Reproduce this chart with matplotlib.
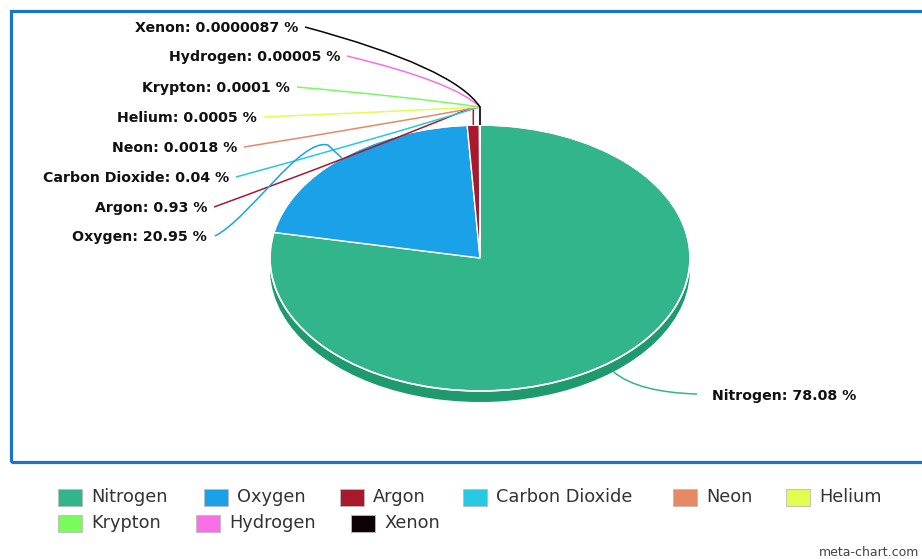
import matplotlib
matplotlib.use("Agg")
import matplotlib.pyplot as plt
import numpy as np
from matplotlib.patches import Wedge, Rectangle, Ellipse, PathPatch
from matplotlib.path import Path
from matplotlib.transforms import Affine2D

# Composition of dry air (% by volume)
gases = ["Nitrogen", "Oxygen", "Argon", "Carbon Dioxide", "Neon",
         "Helium", "Krypton", "Hydrogen", "Xenon"]
shares = [78.08, 20.95, 0.93, 0.04, 0.0018, 0.0005, 0.0001, 0.00005, 0.0000087]
share_labels = ["78.08", "20.95", "0.93", "0.04", "0.0018",
                "0.0005", "0.0001", "0.00005", "0.0000087"]
colors = ["#33b58c", "#1ba1e8", "#a8192e", "#26c9e3", "#e68a65",
          "#e2fc4f", "#79fb5c", "#f86fe8", "#0d0206"]
side_colors = ["#1f9a6e", "#1585c4", "#8a1226", "#1fa8bd", "#c27252",
               "#bcd340", "#62d24a", "#d05bc3", "#050002"]

W, H = 922, 559
fig = plt.figure(figsize=(W / 100, H / 100), dpi=100)
ax = fig.add_axes([0, 0, 1, 1])
ax.set_xlim(0, W)
ax.set_ylim(0, H)
ax.axis("off")


def Y(y):
    """Convert a top-down pixel row into the y-up axes coordinate."""
    return H - y


# frame around the plot area
ax.add_patch(Rectangle((10.5, Y(461.5)), W + 20, 451, fill=False,
                       edgecolor="#1a75c8", linewidth=2.3, zorder=1))

# pie geometry (elliptical, tilted)
cx, cy = 480, Y(258)
rx, ry = 210, 133
depth = 11

vals = np.array(shares, dtype=float)
frac = vals / vals.sum()
ends = 90 - 360 * np.cumsum(frac)
starts = np.concatenate([[90], ends[:-1]])

face_tf = Affine2D().scale(rx, ry).translate(cx, cy) + ax.transData
side_tf = Affine2D().scale(rx, ry).translate(cx, cy - depth) + ax.transData

# side of the pie: lower ellipse plus the band between the two ellipses
for s, e, sc in zip(starts, ends, side_colors):
    ax.add_patch(Wedge((0, 0), 1, e, s, facecolor=sc, edgecolor="none",
                       transform=side_tf, zorder=2))
ax.add_patch(Rectangle((cx - rx, cy - depth), 2 * rx, depth,
                       facecolor=side_colors[0], edgecolor="none", zorder=2))

# top face
for s, e, c in zip(starts, ends, colors):
    ax.add_patch(Wedge((0, 0), 1, e, s, facecolor=c, edgecolor="white",
                       linewidth=1.0, transform=face_tf, zorder=3))
ax.add_patch(Ellipse((cx, cy), 2 * rx, 2 * ry, fill=False, edgecolor="white",
                     linewidth=1.2, zorder=4))


def arc_point(angle_deg, drop=0.0):
    a = np.deg2rad(angle_deg)
    return cx + rx * np.cos(a), cy + ry * np.sin(a) - drop


mids = (starts + ends) / 2

label_font = dict(family="DejaVu Sans", fontweight="bold", fontsize=10.2,
                  color="#111111")

# small slices: labels stacked on the left, leaders fanning from the top
# (row, horizontal share of the bend used for the leader curve)
label_rows = {"Xenon": (298, 28, 0.15), "Hydrogen": (340, 57, 0.2),
              "Krypton": (290, 88, 0.38), "Helium": (257, 118, 0.45),
              "Neon": (237, 148, 0.47), "Carbon Dioxide": (229, 178, 0.47),
              "Argon": (207, 208, 0.47)}
for i, g in enumerate(gases):
    if g not in label_rows:
        continue
    tx, ty, bend = label_rows[g]
    ax.text(tx, Y(ty), f"{g}: {share_labels[i]} %", ha="right", va="center",
            **label_font, zorder=6)
    p0 = arc_point(mids[i])
    p1 = (p0[0], Y(107))
    p2 = (tx + 7, Y(ty - 1))
    ctrl = (p1[0] - bend * (p1[0] - p2[0]), p1[1] + 0.5 * (p2[1] - p1[1]))
    path = Path([p0, p1, ctrl, p2],
                [Path.MOVETO, Path.LINETO, Path.CURVE3, Path.CURVE3])
    ax.add_patch(PathPatch(path, fill=False, edgecolor=colors[i],
                           linewidth=1.1, zorder=5))

# Oxygen label and its S-shaped leader
i = gases.index("Oxygen")
ax.text(207, Y(237), f"Oxygen: {share_labels[i]} %", ha="right", va="center",
        **label_font, zorder=6)
p0 = arc_point(mids[i])
path = Path([p0, (328, Y(145)), (300, Y(138)), (250, Y(218)), (215, Y(236))],
            [Path.MOVETO, Path.LINETO, Path.CURVE4, Path.CURVE4, Path.CURVE4])
ax.add_patch(PathPatch(path, fill=False, edgecolor=colors[i], linewidth=1.1,
                       zorder=5))

# Nitrogen label on the right, leader from the pie's rim
i = gases.index("Nitrogen")
ax.text(712, Y(396), f"Nitrogen: {share_labels[i]} %", ha="left", va="center",
        **label_font, zorder=6)
p0 = arc_point(mids[i], drop=depth)
path = Path([p0, (630, Y(386)), (660, Y(393)), (697, Y(394))],
            [Path.MOVETO, Path.CURVE4, Path.CURVE4, Path.CURVE4])
ax.add_patch(PathPatch(path, fill=False, edgecolor=colors[i], linewidth=1.1,
                       zorder=5))

# legend below the frame
legend_pos = [(58, 497), (204, 497), (340, 497), (463, 497), (673, 497),
              (786, 497), (58, 523), (196, 523), (351, 523)]
for (lx, ly), g, c in zip(legend_pos, gases, colors):
    ax.add_patch(Rectangle((lx, Y(ly) - 8.5), 24, 17, facecolor=c,
                           edgecolor="#bbbbbb", linewidth=0.6, zorder=6))
    ax.text(lx + 33, Y(ly), g, ha="left", va="center", family="DejaVu Sans",
            fontsize=12.8, color="#333333", zorder=6)

ax.text(919, Y(552), "meta-chart.com", ha="right", va="center",
        family="DejaVu Sans", fontsize=9, color="#444444")

fig.savefig("out.png", dpi=100, facecolor="white")
